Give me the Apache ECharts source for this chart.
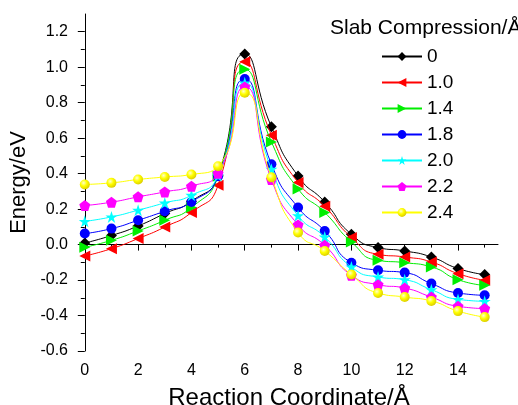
<!DOCTYPE html>
<html>
<head>
<meta charset="utf-8">
<script src="https://cdn.jsdelivr.net/npm/echarts@6/dist/echarts.min.js"></script>
<style>html,body{margin:0;padding:0;background:#fff}#c{width:518px;height:405px}</style>
</head>
<body>
<div id="c"></div>
<script>
// ---- data ----
const reactionCoord = [0, 1, 2, 3, 4, 5, 6, 7, 8, 9, 10, 11, 12, 13, 14, 15];
const seriesNames = ['0', '1.0', '1.4', '1.8', '2.0', '2.2', '2.4'];
const energy_0   = [0.009, 0.051, 0.105, 0.175, 0.244, 0.390, 1.075, 0.664, 0.386, 0.240, 0.058, -0.017, -0.036, -0.070, -0.135, -0.169];
const energy_1_0 = [-0.064, -0.023, 0.034, 0.099, 0.181, 0.335, 1.031, 0.617, 0.350, 0.216, 0.040, -0.055, -0.070, -0.098, -0.164, -0.201];
const energy_1_4 = [-0.015, 0.024, 0.077, 0.137, 0.209, 0.385, 0.988, 0.579, 0.314, 0.181, 0.015, -0.089, -0.102, -0.126, -0.198, -0.230];
const energy_1_8 = [0.062, 0.090, 0.137, 0.188, 0.240, 0.385, 0.933, 0.453, 0.209, 0.077, -0.102, -0.145, -0.158, -0.220, -0.273, -0.286];
const energy_2_0 = [0.131, 0.156, 0.194, 0.235, 0.278, 0.388, 0.912, 0.425, 0.163, 0.043, -0.126, -0.183, -0.198, -0.254, -0.309, -0.320];
const energy_2_2 = [0.220, 0.239, 0.269, 0.297, 0.329, 0.402, 0.889, 0.367, 0.111, -0.004, -0.173, -0.226, -0.245, -0.296, -0.348, -0.361];
const energy_2_4 = [0.339, 0.348, 0.367, 0.381, 0.395, 0.442, 0.856, 0.379, 0.068, -0.036, -0.169, -0.273, -0.296, -0.318, -0.375, -0.409];
const xMajorTicks = [0, 2, 4, 6, 8, 10, 12, 14];
const xMinorTicks = [1, 3, 5, 7, 9, 11, 13, 15];
const yMajorTicks = [-0.6, -0.4, -0.2, 0.0, 0.2, 0.4, 0.6, 0.8, 1.0, 1.2];
const yMinorTicks = [-0.5, -0.3, -0.1, 0.1, 0.3, 0.5, 0.7, 0.9, 1.1];

const allEnergy = [energy_0, energy_1_0, energy_1_4, energy_1_8, energy_2_0, energy_2_2, energy_2_4];
const colors = ['#000000', '#ff0000', '#00ee00', '#0000ff', '#00ffff', '#ff00ff', '#ffff00'];
const STAR = 'path://M100,0 L122.45,69.1 L195.1,69.1 L136.3,111.8 L158.8,180.9 L100,138.2 L41.2,180.9 L63.7,111.8 L4.9,69.1 L77.55,69.1 Z';
const PENT = 'path://M100,0 L195.1,69.1 L158.8,180.9 L41.2,180.9 L4.9,69.1 Z';
const symbols = ['diamond', 'path://M0,5 L10,0 L10,10 Z', 'path://M10,5 L0,0 L0,10 Z', 'circle', STAR, PENT, 'circle'];
const symSizes = [11, 11, 11, 10, 12, 11, 10];

const FONT = '"Liberation Sans", Arial, sans-serif';

const series = allEnergy.map((vals, i) => {
  let itemColor = colors[i];
  if (i === 6) {
    itemColor = {type: 'radial', x: 0.38, y: 0.35, r: 0.7,
      colorStops: [{offset: 0, color: '#ffffd0'}, {offset: 0.45, color: '#ffff00'}, {offset: 1, color: '#d8c800'}]};
  }
  return {
    name: seriesNames[i],
    type: 'line',
    smooth: 0.6,
    data: reactionCoord.map((x, k) => [x, vals[k]]),
    symbol: symbols[i],
    symbolSize: symSizes[i],
    showAllSymbol: true,
    lineStyle: {color: colors[i], width: 1},
    itemStyle: {color: itemColor, borderWidth: 0},
    emphasis: {disabled: true},
    animation: false,
    z: 2 + i
  };
});

const chart = echarts.init(document.getElementById('c'), null, {renderer: 'canvas'});
chart.setOption({
  backgroundColor: '#ffffff',
  animation: false,
  textStyle: {fontFamily: FONT},
  title: {
    text: 'Slab Compression/Å',
    left: 325, top: 13,
    textStyle: {fontFamily: FONT, fontSize: 21, fontWeight: 'normal', color: '#000'}
  },
  legend: {
    orient: 'vertical',
    left: 381, top: 47,
    itemWidth: 40, itemHeight: 11,
    itemGap: 7,
    padding: 0,
    textStyle: {fontFamily: FONT, fontSize: 19, color: '#000', lineHeight: 19},
    data: seriesNames
  },
  grid: {left: 80, right: 20, top: 14, bottom: 54, containLabel: false, outerBoundsMode: 'none'},
  xAxis: [{
    type: 'value', min: -0.18, max: 15.5,
    name: 'Reaction Coordinate/Å', nameLocation: 'middle', nameGap: 35,
    nameTextStyle: {fontFamily: FONT, fontSize: 24, color: '#000'},
    axisLine: {show: true, lineStyle: {color: '#000', width: 1}},
    axisTick: {show: true, inside: false, length: 6, customValues: xMajorTicks, lineStyle: {color: '#000'}},
    axisLabel: {show: true, margin: 12, customValues: xMajorTicks, fontFamily: FONT, fontSize: 16, color: '#000'},
    splitLine: {show: false}
  }, {
    type: 'value', min: -0.18, max: 15.5, position: 'bottom',
    axisLine: {show: false},
    axisTick: {show: true, inside: false, length: 3, customValues: xMinorTicks, lineStyle: {color: '#000'}},
    axisLabel: {show: false},
    splitLine: {show: false}
  }],
  yAxis: [{
    type: 'value', min: -0.6, max: 1.3,
    name: 'Energy/eV', nameLocation: 'middle', nameGap: 47,
    nameTextStyle: {fontFamily: FONT, fontSize: 22, color: '#000'},
    axisLine: {show: true, lineStyle: {color: '#000', width: 1}},
    axisTick: {show: true, inside: false, length: 7, customValues: yMajorTicks, lineStyle: {color: '#000'}},
    axisLabel: {show: true, margin: 12, customValues: yMajorTicks, fontFamily: FONT, fontSize: 16, color: '#000',
      formatter: v => Number(v).toFixed(1)},
    splitLine: {show: false}
  }, {
    type: 'value', min: -0.6, max: 1.3, position: 'left',
    axisLine: {show: false},
    axisTick: {show: true, inside: false, length: 4, customValues: yMinorTicks, lineStyle: {color: '#000'}},
    axisLabel: {show: false},
    splitLine: {show: false}
  }],
  series: series
});
</script>
</body>
</html>
